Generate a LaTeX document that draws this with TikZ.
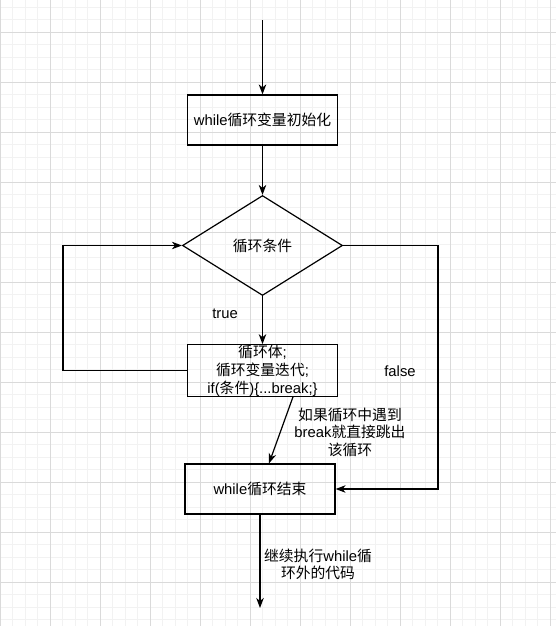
\documentclass[tikz,border=0pt]{standalone}
\usepackage{fontspec}
\setmainfont{Liberation Sans}
\newfontfamily\cjk{Noto Sans CJK SC}
\newcommand\zh[1]{{\cjk #1}}
\usetikzlibrary{shapes.geometric,arrows.meta,calc}
\definecolor{gridminor}{RGB}{242,242,242}
\definecolor{gridmajor}{RGB}{218,218,218}
\tikzset{
  box/.style={draw,line width=1.2pt,rectangle,minimum width=150pt,minimum height=50pt,inner sep=0pt,align=center,font=\fontsize{14.8}{18}\selectfont},
  dia/.style={draw,line width=1.2pt,diamond,minimum width=160pt,minimum height=100pt,inner sep=0pt,font=\fontsize{14.8}{18}\selectfont},
  lbl/.style={inner sep=0pt,align=center,font=\fontsize{14.8}{17.5}\selectfont},
  conn/.style={line width=1.2pt,-{Stealth[length=10pt,width=7.5pt,inset=3pt]}},
}
\begin{document}
\begin{tikzpicture}[x=1pt,y=-1pt]
\useasboundingbox (0,0) rectangle (556,626);
\fill[white] (0,0) rectangle (556,626);
% grid
\foreach \x in {0,12.5,...,556} \draw[gridminor,line width=0.8pt] (\x,0) -- (\x,626);
\foreach \y in {7,19.5,...,626} \draw[gridminor,line width=0.8pt] (0,\y) -- (556,\y);
\foreach \x in {0,50,...,556} \draw[gridmajor,line width=0.8pt] (\x,0) -- (\x,626);
\foreach \y in {32,82,...,626} \draw[gridmajor,line width=0.8pt] (0,\y) -- (556,\y);
% nodes
\node[box] (b1) at (262.5,120) {while\zh{循环变量初始化}};
\node[dia] (d) at (262.5,245.5) {\zh{循环条件}};
\node[box,minimum height=49pt] (b2) at (262.5,370.5) {\zh{循环体};\\\zh{循环变量迭代};\\if(\zh{条件})\{...break;\}};
\node[box] (b3) at (260,489) {while\zh{循环结束}};
\coordinate (start) at (262.5,20);
\coordinate (end) at (260,608);
\coordinate (lp) at (63,370.5);
\coordinate (fr) at (438,489);
% connectors
\draw[conn] (start) -- (b1.north);
\draw[conn] (b1.south) -- (d.north);
\draw[conn] (d.south) -- (b2.north);
\draw[conn] (b2.west) -- (lp) |- (d.west);
\draw[conn] (d.east) -| (fr) -- (b3.east);
\draw[conn] ($(b2.south)+(30.5,0)$) -- ($(b3.north)+(9,0)$);
\draw[conn] (b3.south) -- (end);
% labels
\node[lbl] (t) at (225,314) {true};
\node[lbl] (f) at (400,371) {false};
\node[lbl] (bl) at (350,432) {\zh{如果循环中遇到}\\break\zh{就直接跳出}\\\zh{该循环}};
\node[lbl] (cl) at (318,564.5) {\zh{继续执行}while\zh{循}\\\zh{环外的代码}};
\end{tikzpicture}
\end{document}
